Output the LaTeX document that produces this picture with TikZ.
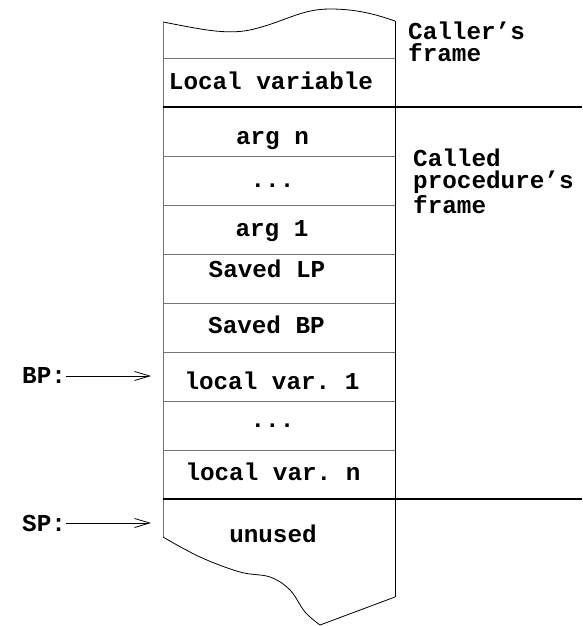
\documentclass[tikz,border=0pt]{standalone}
\usepackage{fontspec}
\setmonofont{Liberation Mono}
\usetikzlibrary{arrows.meta}
\begin{document}
\begin{tikzpicture}[x=1pt,y=-1pt,
  txt/.style={font=\fontsize{24.3}{22}\selectfont\ttfamily\bfseries,inner sep=0pt,anchor=base},
  lbl/.style={txt,anchor=base west,align=left},
  thinline/.style={draw=black!55,line width=0.9pt},
  thickline/.style={draw=black,line width=2.4pt},
  edge/.style={draw=black,line width=0.8pt},
  ptr/.style={draw=black,line width=0.8pt,-{Straight Barb[length=15pt,width=9pt,line width=0.8pt]}}]
\useasboundingbox (0,0) rectangle (582,626);
% column outline
\draw[edge] (163,22) .. controls (200,29) and (225,35) .. (250,30)
  .. controls (285,22) and (300,9) .. (330,9) .. controls (360,9) and (380,16) .. (395,21);
\draw[thinline] (163,22) -- (163,537);
\draw[edge] (395,21) -- (395,597);
\draw[edge] plot[smooth,tension=0.6] coordinates {(163,537)(200,557)(240,572)(270,577)(290,590)(305,612)(320,625)} -- (395,597);
% separators
\foreach \y in {58,156,205,254,303,352,401,450} \draw[thinline] (163,\y) -- (395,\y);
\draw[thickline] (163,107) -- (582,107);
\draw[thickline] (163,499) -- (582,499);
% cells
\node[txt] (lv) at (271,89) {Local variable};
\node[txt] (argn) at (272.5,144) {arg n};
\node[txt] (dots1) at (272.5,187) {...};
\node[txt] (arg1) at (272,236) {arg 1};
\node[txt] (slp) at (267,277) {Saved LP};
\node[txt] (sbp) at (266.5,333) {Saved BP};
\node[txt] (lv1) at (272,389) {local var. 1};
\node[txt] (dots2) at (272.5,427) {...};
\node[txt] (lvn) at (273,480) {local var. n};
\node[txt] (unused) at (273,542) {unused};
% frame labels
\node[lbl] (caller) at (408,62) {Caller’s\\frame};
\node[lbl] (called) at (413,213) {Called\\procedure’s\\frame};
% pointers
\node[lbl] (bp) at (22,383) {BP:};
\node[lbl] (sp) at (22,531) {SP:};
\coordinate (bpend) at (151,376);
\coordinate (spend) at (151,523);
\draw[ptr] (bp.east |- bpend) -- (bpend);
\draw[ptr] (sp.east |- spend) -- (spend);
\end{tikzpicture}
\end{document}
